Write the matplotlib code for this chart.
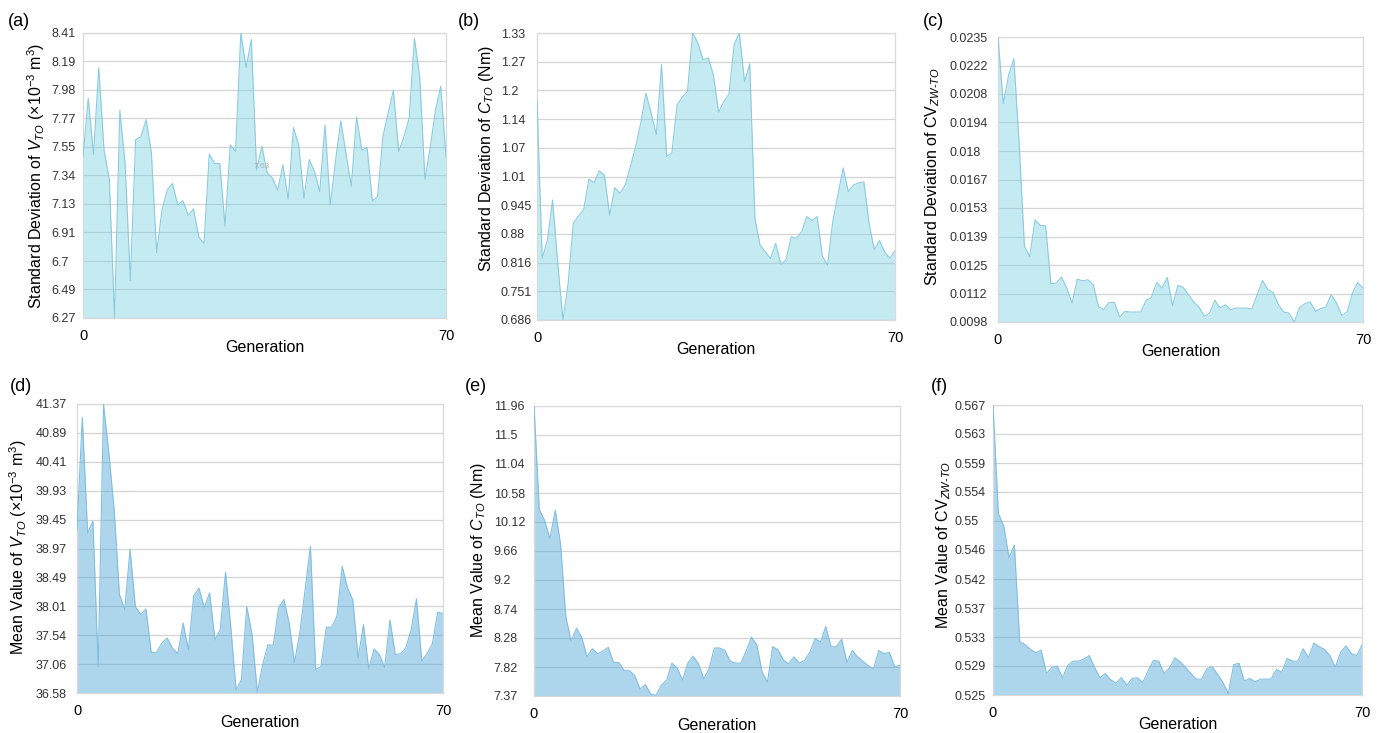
import numpy as np
import matplotlib
matplotlib.use("Agg")
import matplotlib.pyplot as plt

plt.rcParams['font.family'] = ['Liberation Sans', 'DejaVu Sans']
plt.rcParams['mathtext.fontset'] = 'custom'
plt.rcParams['mathtext.rm'] = 'Liberation Sans'
plt.rcParams['mathtext.it'] = 'Liberation Sans:italic'

generation = np.arange(70)

std_v = [7.48, 7.92, 7.50, 8.15, 7.53, 7.31, 6.27, 7.83, 7.43, 6.55,
         7.61, 7.63, 7.76, 7.51, 6.76, 7.08, 7.23, 7.28, 7.12, 7.15,
         7.04, 7.09, 6.88, 6.83, 7.50, 7.43, 7.43, 6.96, 7.57, 7.52,
         8.41, 8.15, 8.36, 7.38, 7.56, 7.36, 7.32, 7.23, 7.42, 7.16,
         7.70, 7.57, 7.17, 7.46, 7.37, 7.22, 7.72, 7.12, 7.45, 7.75,
         7.50, 7.26, 7.78, 7.53, 7.55, 7.15, 7.18, 7.63, 7.81, 7.98,
         7.52, 7.63, 7.77, 8.37, 8.08, 7.31, 7.55, 7.83, 8.01, 7.48]

std_c = [1.180, 0.824, 0.865, 0.955, 0.813, 0.686, 0.768, 0.903, 0.919, 0.934,
         1.002, 0.994, 1.021, 1.011, 0.921, 0.983, 0.970, 0.989, 1.030, 1.075,
         1.128, 1.195, 1.150, 1.102, 1.259, 1.053, 1.061, 1.169, 1.186, 1.199,
         1.330, 1.308, 1.270, 1.274, 1.236, 1.152, 1.176, 1.193, 1.304, 1.330,
         1.221, 1.261, 0.914, 0.854, 0.839, 0.824, 0.858, 0.811, 0.821, 0.873,
         0.869, 0.884, 0.918, 0.909, 0.918, 0.829, 0.809, 0.907, 0.967, 1.027,
         0.974, 0.989, 0.994, 0.996, 0.903, 0.844, 0.864, 0.839, 0.824, 0.841]

std_cv = [0.02350, 0.02030, 0.02166, 0.02246, 0.01838, 0.01343, 0.01295, 0.01471, 0.01444, 0.01442,
          0.01164, 0.01167, 0.01196, 0.01143, 0.01071, 0.01186, 0.01178, 0.01183, 0.01159, 0.01055,
          0.01039, 0.01074, 0.01074, 0.01004, 0.01031, 0.01028, 0.01028, 0.01028, 0.01084, 0.01098,
          0.01170, 0.01143, 0.01194, 0.01058, 0.01156, 0.01146, 0.01111, 0.01076, 0.01052, 0.01007,
          0.01023, 0.01084, 0.01047, 0.01063, 0.01039, 0.01047, 0.01047, 0.01047, 0.01042, 0.01111,
          0.01180, 0.01135, 0.01122, 0.01063, 0.01028, 0.01023, 0.00980, 0.01047, 0.01068, 0.01077,
          0.01031, 0.01044, 0.01053, 0.01111, 0.01071, 0.01010, 0.01028, 0.01119, 0.01170, 0.01143]

mean_v = [39.29, 41.15, 39.23, 39.43, 37.02, 41.36, 40.56, 39.62, 38.21, 37.96,
          38.96, 38.01, 37.88, 37.97, 37.25, 37.25, 37.41, 37.49, 37.32, 37.23,
          37.74, 37.30, 38.19, 38.32, 37.99, 38.24, 37.46, 37.63, 38.58, 37.66,
          36.63, 36.80, 38.01, 37.55, 36.59, 37.05, 37.38, 37.37, 37.99, 38.13,
          37.74, 37.08, 37.58, 38.29, 39.01, 36.97, 37.02, 37.67, 37.67, 37.85,
          38.68, 38.32, 38.12, 37.16, 37.71, 36.98, 37.31, 37.22, 37.00, 37.79,
          37.22, 37.23, 37.33, 37.63, 38.14, 37.11, 37.23, 37.40, 37.92, 37.90]

mean_c = [11.96, 10.32, 10.15, 9.86, 10.31, 9.78, 8.62, 8.24, 8.44, 8.30,
          7.99, 8.12, 8.04, 8.08, 8.14, 7.90, 7.90, 7.77, 7.77, 7.69,
          7.48, 7.55, 7.40, 7.38, 7.54, 7.62, 7.89, 7.81, 7.62, 7.89,
          8.00, 7.88, 7.64, 7.80, 8.13, 8.13, 8.09, 7.92, 7.89, 7.89,
          8.08, 8.30, 8.18, 7.75, 7.59, 8.15, 8.10, 7.94, 7.88, 7.99,
          7.89, 7.93, 8.06, 8.28, 8.22, 8.47, 8.15, 8.15, 8.27, 7.90,
          8.09, 7.99, 7.92, 7.85, 7.80, 8.09, 8.04, 8.06, 7.83, 7.86]

mean_cv = [0.5670, 0.5513, 0.5495, 0.5449, 0.5467, 0.5327, 0.5323, 0.5316, 0.5311, 0.5315,
           0.5281, 0.5290, 0.5292, 0.5275, 0.5293, 0.5299, 0.5299, 0.5302, 0.5307, 0.5290,
           0.5275, 0.5281, 0.5272, 0.5267, 0.5275, 0.5264, 0.5274, 0.5275, 0.5268, 0.5285,
           0.5300, 0.5299, 0.5281, 0.5289, 0.5304, 0.5298, 0.5290, 0.5281, 0.5273, 0.5273,
           0.5288, 0.5291, 0.5280, 0.5268, 0.5252, 0.5294, 0.5296, 0.5270, 0.5274, 0.5269,
           0.5273, 0.5273, 0.5273, 0.5287, 0.5283, 0.5303, 0.5299, 0.5299, 0.5317, 0.5304,
           0.5325, 0.5320, 0.5316, 0.5307, 0.5290, 0.5312, 0.5321, 0.5310, 0.5307, 0.5322]

ticks_a = ['6.27', '6.49', '6.7', '6.91', '7.13', '7.34', '7.55', '7.77', '7.98', '8.19', '8.41']
ticks_b = ['0.686', '0.751', '0.816', '0.88', '0.945', '1.01', '1.07', '1.14', '1.2', '1.27', '1.33']
ticks_c = ['0.0098', '0.0112', '0.0125', '0.0139', '0.0153', '0.0167', '0.018', '0.0194', '0.0208', '0.0222', '0.0235']
ticks_d = ['36.58', '37.06', '37.54', '38.01', '38.49', '38.97', '39.45', '39.93', '40.41', '40.89', '41.37']
ticks_e = ['7.37', '7.82', '8.28', '8.74', '9.2', '9.66', '10.12', '10.58', '11.04', '11.5', '11.96']
ticks_f = ['0.525', '0.529', '0.533', '0.537', '0.542', '0.546', '0.55', '0.554', '0.559', '0.563', '0.567']

W, H = 1388, 733
fig = plt.figure(figsize=(W / 100, H / 100), dpi=100)

top_fill, top_line = '#7fd3e3', '#8ccbe0'
bot_fill, bot_line = '#4ba6d8', '#82bfe0'

# (letter, data, tick labels, ylabel, box px [l, t, r, b], tick pad pt, label x, label y, colours, letter pos)
panels = [
    ('(a)', std_v, ticks_a, r'Standard Deviation of $V_{TO}$ (×10$^{-3}$ m$^{3}$)',
     (83, 33, 446, 318), 23, -0.130, 0.50, top_fill, top_line, (8, 22)),
    ('(b)', std_c, ticks_b, r'Standard Deviation of $C_{TO}$ (Nm)',
     (537, 33, 895, 320), 26, -0.141, 0.564, top_fill, top_line, (458, 22)),
    ('(c)', std_cv, ticks_c, r'Standard Deviation of CV$_{ZW\text{-}TO}$',
     (998, 37, 1363, 322), 35, -0.179, 0.512, top_fill, top_line, (923, 22)),
    ('(d)', mean_v, ticks_d, r'Mean Value of $V_{TO}$ (×10$^{-3}$ m$^{3}$)',
     (77, 404, 443, 693), 30, -0.160, 0.506, bot_fill, bot_line, (10, 386)),
    ('(e)', mean_c, ticks_e, r'Mean Value of $C_{TO}$ (Nm)',
     (534, 406, 900, 696), 29, -0.153, 0.503, bot_fill, bot_line, (465, 386)),
    ('(f)', mean_cv, ticks_f, r'Mean Value of CV$_{ZW\text{-}TO}$',
     (993, 405, 1362, 695), 28, -0.135, 0.517, bot_fill, bot_line, (931, 386)),
]

for letter, vals, labels, ylab, box, pad, lx, ly, fc, lc, lpos in panels:
    l, t, r, b = box
    ax = fig.add_axes([l / W, 1 - b / H, (r - l) / W, (b - t) / H])
    lo, hi = float(labels[0]), float(labels[-1])
    ax.fill_between(generation, vals, lo, color=fc, alpha=0.45, lw=0, zorder=2)
    ax.plot(generation, vals, color=lc, lw=0.8, zorder=3)
    ax.set_xlim(generation[0], generation[-1])
    ax.set_ylim(lo, hi)
    ax.set_yticks(np.linspace(lo, hi, len(labels)))
    ax.set_yticklabels(labels, fontsize=9, ha='left')
    ax.tick_params(axis='y', length=0, pad=pad, colors='#333333')
    ax.set_xticks([generation[0], generation[-1]])
    ax.set_xticklabels(['0', '70'], fontsize=10.5)
    ax.tick_params(axis='x', length=0, pad=8)
    ax.grid(axis='y', color='#d4d4d4', lw=0.9, zorder=1)
    for s in ax.spines.values():
        s.set_color('#d9d9d9')
        s.set_linewidth(0.9)
    ax.set_xlabel('Generation', fontsize=11.5, labelpad=-2)
    ax.set_ylabel(ylab, fontsize=11.5, va='center')
    ax.yaxis.set_label_coords(lx, ly)
    fig.text(lpos[0] / W, 1 - lpos[1] / H, letter, fontsize=13, va='center', ha='left')
    if letter == '(a)':
        ax.text(34, 7.41, '7.63', fontsize=6, color='#b0b0b0', ha='center', va='center', zorder=4)

fig.savefig('out.png', dpi=100)
